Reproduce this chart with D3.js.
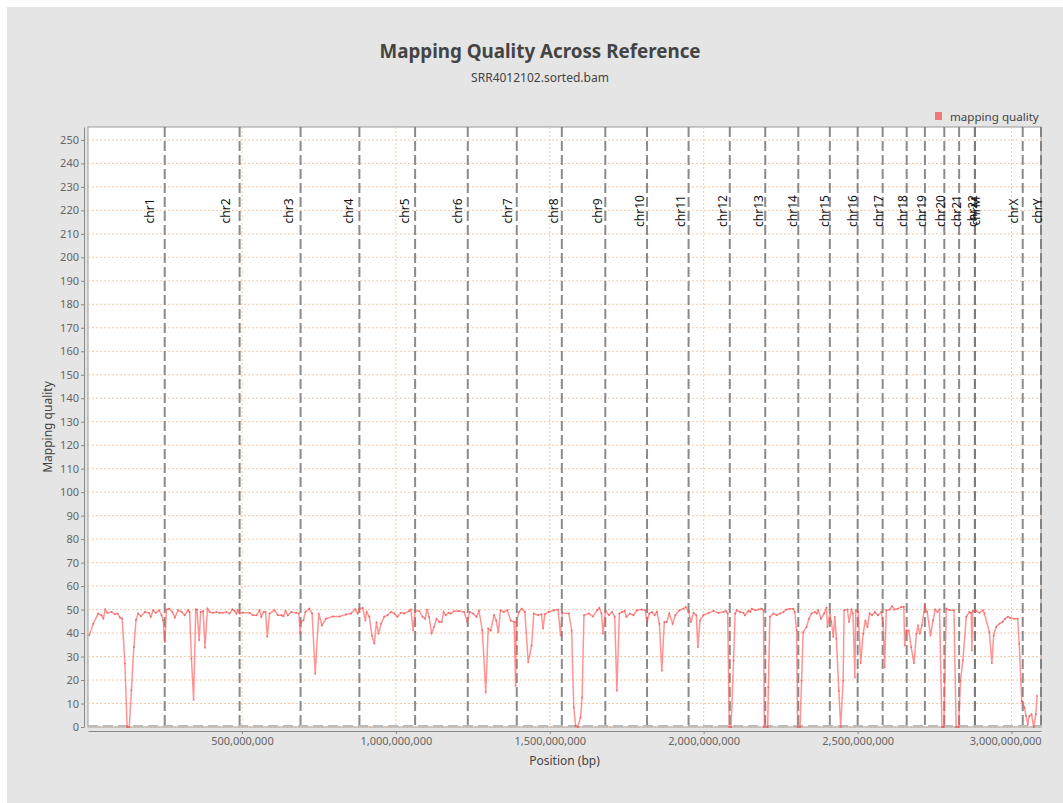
<!DOCTYPE html>
<html>
<head>
<meta charset="utf-8">
<title>Mapping Quality Across Reference</title>
<script src="https://cdn.jsdelivr.net/npm/d3@7"></script>
<style>
body { margin:0; background:#fff; font-family:"Noto Sans", "Open Sans", sans-serif; }
</style>
</head>
<body>
<svg id="chart" width="1063" height="803"></svg>
<script>
// chromosome order and lengths (Mb) as on the reference
var chromNames = ["chr1","chr2","chr3","chr4","chr5","chr6","chr7","chr8","chr9","chr10","chr11","chr12",
	"chr13","chr14","chr15","chr16","chr17","chr18","chr19","chr20","chr21","chr22","chrM","chrX","chrY"];
var chromLengths = [249.25,243.2,198.02,191.15,180.92,171.12,159.14,146.36,141.21,135.53,135.01,133.85,
	115.17,107.35,102.53,90.35,81.2,78.08,59.13,63.03,48.13,51.3,0.017,155.27,59.37];

// window position (Mb) and mean mapping quality
var positions = [4.3,17,33,44,50,56,63,77,87,96,104,111,120,127,134,141,149,156,163,172,185,198,204,212,220,231,239,244,249.5,
	255,264,274,282,293,304,314,325,330,336,343,350,354,361,366,374,380,388,395,406,417,428,438,449,460,469,476,482,487,492.5,
	503,525,536,547,557,563,570,577,582,590,606,617,628,635,642,649,660,676,685,689,692,700,706,719,728,738,
	749.6,760,773,795,817,838,854,868,876,881,892,901,905,914,922,930,937,944,952,962,973,984,995,1005,1016,1027,1043,
	1049,1056,1063,1076,1087,1095,1101,1108,1116,1124,1132,1141,1149,1155,1162,1171,1178,1189,1205,1222,1232,1240,1251,1262,1270,
	1281,1292,1300,1308,1319,1326,1333,1340,1351,1362,1373,1384,1389,1391,1400,1409,1419,1430,1441,1448,1462,1473,1478,1484,1497,
	1513,1527,1535,1540,1562,1571,1578,1584,1591,1600,1605,1611,1627,1640,1654,1661,1668,1673,1681,1692,1702,1711,1718,1726,1735,
	1743,1749,1760,1772,1783,1799,1810,1816,1823,1832,1841,1848,1856,1864,1872,1880,1888,1899,1908,1921,1934,1942,1951,1959,1967,
	1976,1981,1988,1999,2016,2032,
	2048,2064,2072,2078,2083,2089,2097,2102,2107,2118,2129,2134,2145,2151,2156,2167,2178,2188,2194,2197,2208,2210,2215,2226,2237,
	2248,2259,2269,2280,2291,2296,2302,2305,2313,2318,2323,2334,2342,2350,2361,2367,2372,2381,2391,2399,2402,2410,2415,2421,2426,
	2431,2439,2445,2453,2456,2467,2472,2480,2485,2491,2494,2502,2510,2518,2525,2532,2539,2547,2556,2566,2577,2583,2588,2593,2604,
	2612,2620,2631,2642,2650,2653,2658,2666,2674,2683,2691,2696,2702,2709,2718,2726,2737,2745,2752,2759,2766,2774,2780,2788,2799,
	2813,2820,2828,2834,2842,2853,2863,2869,2871,2874,2885,2896,2907,2912,2928,2936,2942,2950,2961,2971,2979,2988,2996,3009,3020,
	3025,3033,3042,3047,3053,3058,3065,3072,3079,3083];
var quality = [39.1,44,48.3,47.6,46.2,50,48.6,49,48,48.3,46.6,46.2,27,0,0,15.6,34.1,45.7,48.3,47.2,49,48.6,46.9,49.7,48.6,49.7,47.6,45.5,36.2,
	50,50.4,49,46.6,49.7,49,47.6,49.7,49,29.1,11.6,50,50,36.9,49,49.4,33.8,50.4,49,48.6,49,48.6,48.6,49,48.3,50.1,49.4,48.3,49.7,48.3,
	48.6,48.6,47.6,47.6,49.7,46.9,49,49,38.4,48.3,49.7,47.6,47.6,47.2,49.4,47.6,49,48.6,48.3,39.8,44.7,45.5,49,50.4,48.3,22.7,
	48.3,43.3,46.1,47.1,47.1,47.9,48.3,50.1,48.3,50.4,50.7,45.4,49,46.9,39,35.4,44.7,39.7,44,46.9,47.6,49,48.3,46.9,48.6,48.3,49.4,
	50,41.1,49.4,49.4,46.9,46.1,50,46.9,40,42.6,46.1,44.7,44.7,49,47.6,48.6,48.3,49.3,49.4,49,44.7,49,48.3,46.9,49.4,
	41.1,14.7,41.9,41.1,47.6,45.4,40.4,49.7,49,49.7,45.4,44.7,17.6,44.7,49,50.4,49,27.6,34.7,48.3,47.6,48,41.9,48,49,
	49.7,50,39,48.6,48.3,41.1,8.3,0.4,0,4,12.6,47.6,48.3,47.1,49.7,50.7,48.3,39.7,49.4,47.6,49,46.9,15.4,48.3,49,
	49.4,46.9,48.3,47.6,49.7,50,49.7,44.7,48.3,49,47.6,49,44,24,44.7,44.7,48.3,44,47.6,49.7,50.4,51.1,49,44.7,48.6,
	47.6,34,45.4,47.6,48.6,49.4,
	48.6,49,49.4,48.3,0,0,28.3,48.3,49.7,49,48.6,47.6,49.4,49,50.4,49.7,50,50.4,49.7,0,0,16.9,46.9,48.3,47.6,
	48.3,49,50,50.4,50.4,49,41.1,0,0,19.7,40.4,42.6,46.1,48.3,49,48.3,49.7,46.1,48.3,50.9,42.6,48.3,44.7,38.3,46.9,
	37.6,15.4,0,19.7,49.7,50,44.7,50,48.3,21.1,49.7,49,27.1,39.7,45.4,42.6,48.3,47.6,49,47.6,49,44,25.4,49.7,50,
	51.4,50,50.4,51.1,51.1,34.7,41.1,41.1,34,27.1,39.7,43.3,39.7,43.3,51.4,49,39,45.4,50,49,50,0,0,50.4,49.7,
	49.7,0,0,19.7,28.3,46.9,49,48.6,32.6,49.4,49.4,48.6,49.7,48.3,40.4,27.1,39,42.6,44,44.7,46.1,46.9,46.4,46.1,46.1,
	35.4,11.1,8.3,4.7,1.1,4.7,5.4,0,5.4,13.3];

var yTicks = d3.range(0, 251, 10);
var xTicks = [500, 1000, 1500, 2000, 2500, 3000];

var svg = d3.select("#chart");
var pL = 88, pR = 1041, pT = 127, pB = 727;
var genomeEnd = d3.sum(chromLengths);

var x = d3.scaleLinear().domain([0, genomeEnd]).range([pL, pR]);
var y = d3.scaleLinear().domain([0, 255.5]).range([pB, pT]);

// panel background
svg.append("rect").attr("x", 7).attr("y", 7).attr("width", 1056).attr("height", 796).attr("fill", "#e5e5e5");

svg.append("text").attr("x", 540).attr("y", 58).attr("text-anchor", "middle")
	.style("font-size", "18.8px").style("font-weight", "bold").attr("fill", "#444")
	.text("Mapping Quality Across Reference");
svg.append("text").attr("x", 540).attr("y", 82).attr("text-anchor", "middle")
	.style("font-size", "12px").attr("fill", "#444").text("SRR4012102.sorted.bam");

// legend
svg.append("rect").attr("x", 935).attr("y", 112).attr("width", 7).attr("height", 8).attr("fill", "#f07878");
svg.append("text").attr("x", 950).attr("y", 121).style("font-size", "11.6px").attr("fill", "#444").text("mapping quality");

// plot area
svg.append("rect").attr("x", pL).attr("y", pT).attr("width", pR - pL).attr("height", pB - pT)
	.attr("fill", "#fff").attr("stroke", "#999").attr("stroke-width", 1);

var grid = svg.append("g").attr("stroke", "#f6c8a4").attr("stroke-width", 1).attr("stroke-dasharray", "2,2");
grid.selectAll("line.h").data(yTicks).enter().append("line")
	.attr("x1", pL).attr("x2", pR).attr("y1", function(d){ return y(d); }).attr("y2", function(d){ return y(d); });
grid.selectAll("line.v").data(xTicks).enter().append("line")
	.attr("y1", pT).attr("y2", pB).attr("x1", function(d){ return x(d); }).attr("x2", function(d){ return x(d); });

// zero marker
svg.append("line").attr("x1", pL).attr("x2", pR).attr("y1", y(0) - 1).attr("y2", y(0) - 1)
	.attr("stroke", "#bbb").attr("stroke-width", 2).attr("stroke-dasharray", "10,5");

// chromosome ends
var starts = [], ends = [];
var acc = 0;
for (var i = 0; i < chromLengths.length; i++) {
	starts.push(acc);
	acc += chromLengths[i];
	ends.push(acc);
}
svg.append("g").selectAll("line").data(ends).enter().append("line")
	.attr("x1", function(d){ return x(d); }).attr("x2", function(d){ return x(d); })
	.attr("y1", pT).attr("y2", pB)
	.attr("stroke", "#777").attr("stroke-opacity", 0.85).attr("stroke-width", 2).attr("stroke-dasharray", "10,4");

// labels sit at 80% of each chromosome
svg.append("g").selectAll("text").data(starts).enter().append("text")
	.attr("transform", function(d, i){ return "translate(" + (x(d + 0.8 * chromLengths[i]) + 5) + ",211) rotate(-90)"; })
	.attr("text-anchor", "middle").style("font-size", "12px").attr("fill", "#111")
	.text(function(d, i){ return chromNames[i]; });

// series
var pts = positions.map(function(p, i){ return [p, quality[i]]; });
var line = d3.line().x(function(d){ return x(d[0]); }).y(function(d){ return y(d[1]); });
svg.append("path").datum(pts).attr("d", line).attr("fill", "none")
	.attr("stroke", "#ff5a5a").attr("stroke-opacity", 0.65).attr("stroke-width", 1.5);
svg.append("g").selectAll("circle").data(pts).enter().append("circle")
	.attr("cx", function(d){ return x(d[0]); }).attr("cy", function(d){ return y(d[1]); })
	.attr("r", 1).attr("fill", "#e84a4a").attr("opacity", 0.6);

// axes
var yAxis = svg.append("g").attr("transform", "translate(84,0)")
	.call(d3.axisLeft(y).tickValues(yTicks).tickSize(3).tickSizeOuter(0).tickPadding(2));
var xAxis = svg.append("g").attr("transform", "translate(0,731)")
	.call(d3.axisBottom(x).tickValues(xTicks).tickSize(3).tickSizeOuter(0).tickPadding(3)
		.tickFormat(function(d){ return d3.format(",")(d * 1e6); }));
[yAxis, xAxis].forEach(function(a){
	a.select(".domain").attr("stroke", "#888");
	a.selectAll(".tick line").attr("stroke", "#888");
	a.selectAll(".tick text").attr("fill", "#666").style("font-size", "11px").style("font-family", "Noto Sans, sans-serif");
});
// last label is kept inside the plot width
xAxis.selectAll(".tick text").filter(function(d){ return x(d) + 38 > pR; })
	.attr("text-anchor", "end").attr("x", function(d){ return pR - x(d); });

svg.append("text").attr("x", (pL + pR) / 2).attr("y", 765).attr("text-anchor", "middle")
	.style("font-size", "12px").attr("fill", "#444").text("Position (bp)");
svg.append("text").attr("transform", "translate(52," + ((pT + pB) / 2) + ") rotate(-90)")
	.attr("text-anchor", "middle").style("font-size", "12px").attr("fill", "#444").text("Mapping quality");
</script>
</body>
</html>
